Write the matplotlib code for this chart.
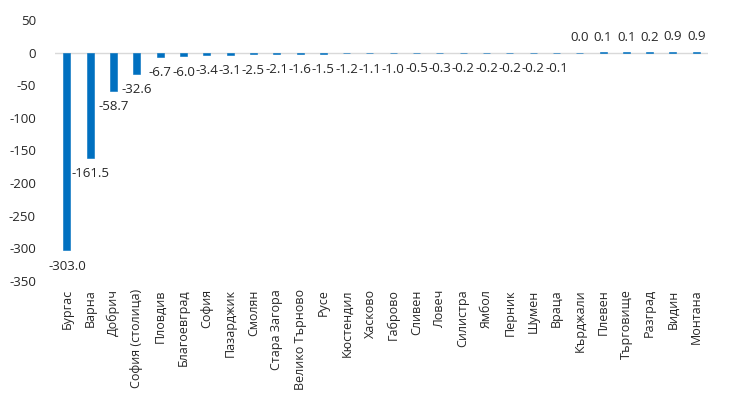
import matplotlib
matplotlib.use("Agg")
from matplotlib import pyplot as plt

plt.rcParams["font.family"] = ["Open Sans", "DejaVu Sans"]

regions = ["Бургас", "Варна", "Добрич", "София (столица)", "Пловдив", "Благоевград",
           "София", "Пазарджик", "Смолян", "Стара Загора", "Велико Търново", "Русе",
           "Кюстендил", "Хасково", "Габрово", "Сливен", "Ловеч", "Силистра", "Ямбол",
           "Перник", "Шумен", "Враца", "Кърджали", "Плевен", "Търговище", "Разград",
           "Видин", "Монтана"]
values = [-303.0, -161.5, -58.7, -32.6, -6.7, -6.0, -3.4, -3.1, -2.5, -2.1, -1.6, -1.5,
          -1.2, -1.1, -1.0, -0.5, -0.3, -0.2, -0.2, -0.2, -0.2, -0.1, 0.0, 0.1, 0.1,
          0.2, 0.9, 0.9]
yticks = [50, 0, -50, -100, -150, -200, -250, -300, -350]

bar_color = "#0070C0"
text_color = "#262626"

fig = plt.figure(figsize=(7.3, 3.98), dpi=100)
ax = fig.add_axes([0.0758, 0.294, 0.894, 0.656])

x = list(range(len(regions)))
ax.bar(x, values, width=0.3, color=bar_color, edgecolor=bar_color, linewidth=0.4, zorder=3)

# data labels below negative bars, above positive ones
for xi, v in zip(x, values):
    if v < 0:
        ax.annotate(f"{v:.1f}", (xi, v), xytext=(0, -16), textcoords="offset pixels",
                    ha="center", va="center", fontsize=9.5, color=text_color)
    else:
        ax.annotate(f"{v:.1f}", (xi, v), xytext=(0, 15), textcoords="offset pixels",
                    ha="center", va="center", fontsize=9.5, color=text_color)

ax.axhline(0, color="#D9D9D9", linewidth=1, zorder=2)
ax.set_xlim(-0.5, len(regions) - 0.5)
ax.set_ylim(-350, 50)
ax.set_yticks(yticks)
ax.set_yticklabels([str(t) for t in yticks])
ax.set_xticks(x)
ax.set_xticklabels(regions, rotation=90, va="top", ha="center", fontsize=9)

ax.tick_params(axis="both", length=0, labelcolor=text_color)
ax.tick_params(axis="y", pad=14, labelsize=9.5)
ax.tick_params(axis="x", pad=6)
for s in ax.spines.values():
    s.set_visible(False)

fig.savefig("out.png", dpi=100)
